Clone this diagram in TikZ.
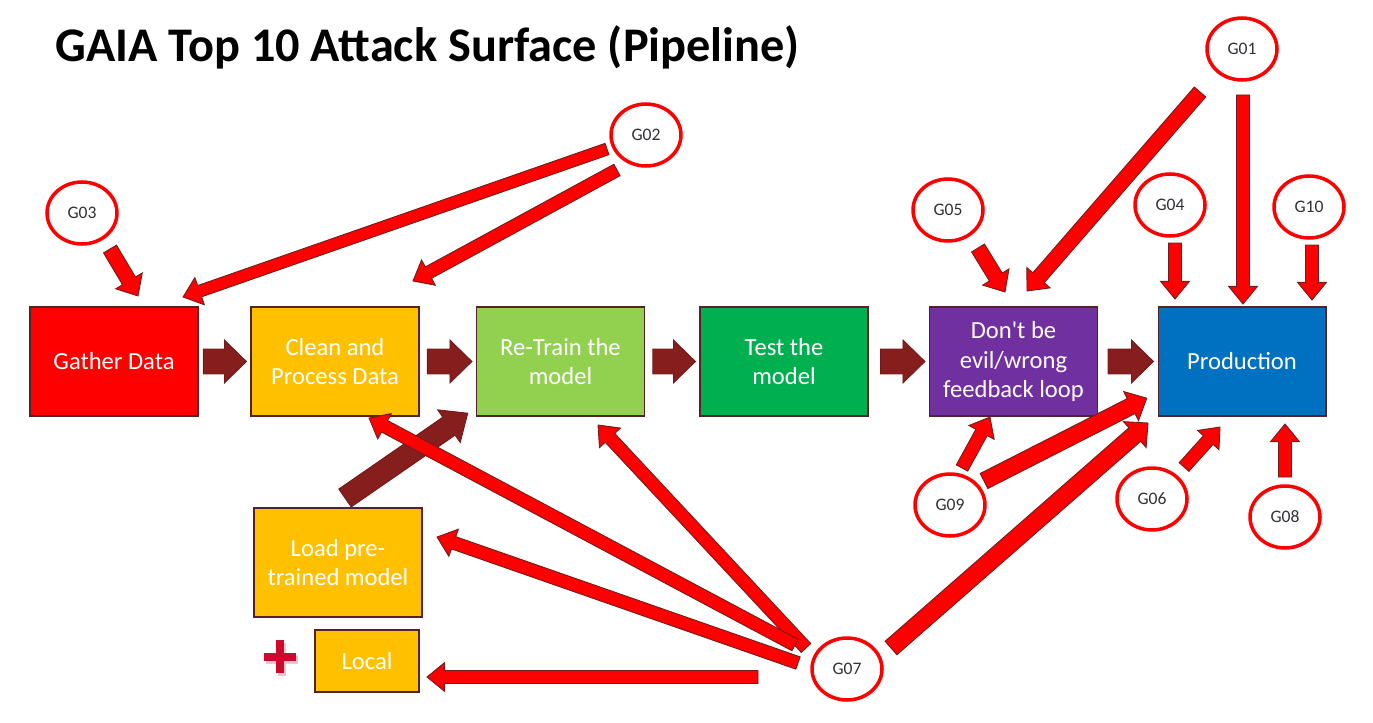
\documentclass[tikz,border=0pt]{standalone}
\usepackage{fontspec}
\setmainfont{Carlito}
\usetikzlibrary{shapes.geometric,calc}
\definecolor{boxline}{RGB}{85,35,35}
\definecolor{arrowdark}{RGB}{135,30,30}
\definecolor{arrowline}{RGB}{110,30,30}
\definecolor{labelgray}{RGB}{50,50,55}
\definecolor{plusred}{RGB}{205,10,45}
\tikzset{
  arrshaft/.store in=\arrshaftw, arrhead/.store in=\arrheadw, arrtip/.store in=\arrtipl,
  arrgapa/.store in=\arrgapa, arrgapb/.store in=\arrgapb,
  redarrow/.style={arrshaft=3.7,arrhead=8.2,arrtip=10,arrgapa=0,arrgapb=0,
    arrbody/.style={draw=arrowline,fill=red,line width=0.5pt}},
  darkarrow/.style={arrshaft=7.1,arrhead=12.2,arrtip=12.5,arrgapa=4.5,arrgapb=2.3,
    arrbody/.style={draw=arrowdark!85!black,fill=arrowdark,line width=0.5pt}},
  stage/.style={draw=boxline,line width=0.6pt,minimum width=3.36cm,minimum height=2.18cm,
    text=white,align=center,font=\fontsize{14}{17}\selectfont},
  threat/.style={ellipse,draw=red,line width=2pt,fill=white,minimum width=1.4cm,
    minimum height=1.24cm,inner sep=0pt,text=labelgray,font=\fontsize{10}{11}\selectfont}
}
% block arrow: \blockarrow[style]{from}{to}
\newcommand{\blockarrow}[3][]{%
  \begin{scope}
  \tikzset{redarrow,#1}%
  \path (#2); \pgfgetlastxy{\arrxa}{\arrya}%
  \path (#3); \pgfgetlastxy{\arrxb}{\arryb}%
  \pgfmathsetmacro{\arrang}{atan2(\arryb-\arrya,\arrxb-\arrxa)}%
  \pgfmathsetmacro{\arrtot}{veclen(\arrxb-\arrxa,\arryb-\arrya)-\arrgapa-\arrgapb}%
  \pgfmathsetmacro{\arrlen}{\arrtot-\arrtipl}%
  \coordinate (arrs) at ($(#2)+(\arrang:\arrgapa pt)$);
  \path[arrbody] ($(arrs)+(\arrang+90:\arrshaftw pt)$)
    -- ($(arrs)+(\arrang:\arrlen pt)+(\arrang+90:\arrshaftw pt)$)
    -- ($(arrs)+(\arrang:\arrlen pt)+(\arrang+90:\arrheadw pt)$)
    -- ($(arrs)+(\arrang:\arrtot pt)$)
    -- ($(arrs)+(\arrang:\arrlen pt)+(\arrang-90:\arrheadw pt)$)
    -- ($(arrs)+(\arrang:\arrlen pt)+(\arrang-90:\arrshaftw pt)$)
    -- ($(arrs)+(\arrang-90:\arrshaftw pt)$) -- cycle;
  \end{scope}}

\begin{document}
\begin{tikzpicture}[x=0.02cm,y=-0.02cm]
\useasboundingbox (0,0) rectangle (1373,723);
\node[anchor=base west,inner sep=0pt,font=\bfseries\fontsize{27.5}{32}\selectfont] (title) at (55,62)
  {GAIA Top 10 Attack Surface (Pipeline)};

% pipeline stages
\node[stage,fill=red] (gather) at (114,361.5) {Gather Data};
\node[stage,fill={rgb,255:red,255;green,192;blue,0}] (clean) at (335,361.5) {Clean and\\Process Data};
\node[stage,fill={rgb,255:red,146;green,208;blue,80}] (retrain) at (560.5,361.5) {Re-Train the\\model};
\node[stage,fill={rgb,255:red,0;green,176;blue,80}] (test) at (784,361.5) {Test the\\model};
\node[stage,fill={rgb,255:red,112;green,48;blue,160}] (dont) at (1013.5,361.5) {Don\textquotesingle t be\\evil/wrong\\feedback loop};
\node[stage,fill={rgb,255:red,0;green,112;blue,192}] (prod) at (1242,361.5) {Production};
\node[stage,fill={rgb,255:red,255;green,192;blue,0}] (load) at (338,562.5) {Load pre-\\trained model};
\node[stage,fill={rgb,255:red,255;green,192;blue,0},minimum width=2.08cm,minimum height=1.24cm]
  (local) at (367,661) {Local};

% plus sign
\draw[plusred!25,line width=4.5pt] (266,660) -- (298,660) (282,643) -- (282,676);
\draw[plusred,line width=4.5pt] (264,657) -- (296,657) (280,640) -- (280,673);

% threats
\node[threat] (g01) at (1242,49) {G01};
\node[threat] (g02) at (646,135) {G02};
\node[threat] (g03) at (82,213) {G03};
\node[threat] (g04) at (1170,205) {G04};
\node[threat] (g05) at (948,210) {G05};
\node[threat] (g06) at (1152,499) {G06};
\node[threat] (g07) at (847,669) {G07};
\node[threat] (g08) at (1285,517) {G08};
\node[threat] (g09) at (950,505) {G09};
\node[threat] (g10) at (1309,207) {G10};

% arrow ends
\coordinate (g03a) at (110,249); \coordinate (gathera) at (138,296);
\coordinate (g02a) at (607,149); \coordinate (gatherb) at (183,297);
\coordinate (g02b) at (617,170); \coordinate (cleana) at (413,281);
\coordinate (g01a) at (1200,92); \coordinate (donta) at (1027,291);
\coordinate (g01b) at (1243,95); \coordinate (proda) at (1243,304);
\coordinate (g05a) at (978,248); \coordinate (dontb) at (1005,292);
\coordinate (g04a) at (1175,243); \coordinate (prodb) at (1175,299);
\coordinate (g10a) at (1312,245); \coordinate (prodc) at (1312,300);
\coordinate (g09a) at (962,468); \coordinate (dontc) at (990,417);
\coordinate (g09b) at (984,481); \coordinate (prodd) at (1147,398);
\coordinate (g07a) at (891,648); \coordinate (prode) at (1148,423);
\coordinate (g06a) at (1184,467); \coordinate (prodf) at (1220,427);
\coordinate (g08a) at (1285,477); \coordinate (prodg) at (1285,424);
\coordinate (g07b) at (806,648); \coordinate (retraina) at (598,425);
\coordinate (g07c) at (795,645); \coordinate (cleanb) at (369,418);
\coordinate (g07d) at (798,663); \coordinate (loada) at (437,537);
\coordinate (g07e) at (758,677); \coordinate (locala) at (427,677);
\coordinate (loadb) at (345,498); \coordinate (retrainb) at (468,413);

% flow
\blockarrow[darkarrow,arrgapa=2.8]{gather.east}{clean.west}
\blockarrow[darkarrow]{clean.east}{retrain.west}
\blockarrow[darkarrow]{retrain.east}{test.west}
\blockarrow[darkarrow,arrgapa=6.8]{test.east}{dont.west}
\blockarrow[darkarrow,arrgapa=5.7]{dont.east}{prod.west}
\blockarrow[darkarrow,arrshaft=6.2,arrhead=11.3,arrtip=13,arrgapa=0,arrgapb=0]{loadb}{retrainb}

% attacks
\blockarrow[arrshaft=4.3,arrhead=8.8]{g03a}{gathera}
\blockarrow[arrshaft=3.4]{g02a}{gatherb}
\blockarrow[arrshaft=3.7]{g02b}{cleana}
\blockarrow[arrshaft=4.3,arrhead=8.8]{g01a}{donta}
\blockarrow{g01b}{proda}
\blockarrow[arrshaft=4.3,arrhead=8.8]{g05a}{dontb}
\blockarrow{g04a}{prodb}
\blockarrow{g10a}{prodc}
\blockarrow{g09a}{dontc}
\blockarrow[arrshaft=4.8,arrhead=9.3]{g09b}{prodd}
\blockarrow[arrshaft=5.1,arrhead=9.8]{g07a}{prode}
\blockarrow{g06a}{prodf}
\blockarrow{g08a}{prodg}
\blockarrow{g07b}{retraina}
\blockarrow{g07c}{cleanb}
\blockarrow{g07d}{loada}
\blockarrow{g07e}{locala}
\end{tikzpicture}
\end{document}
